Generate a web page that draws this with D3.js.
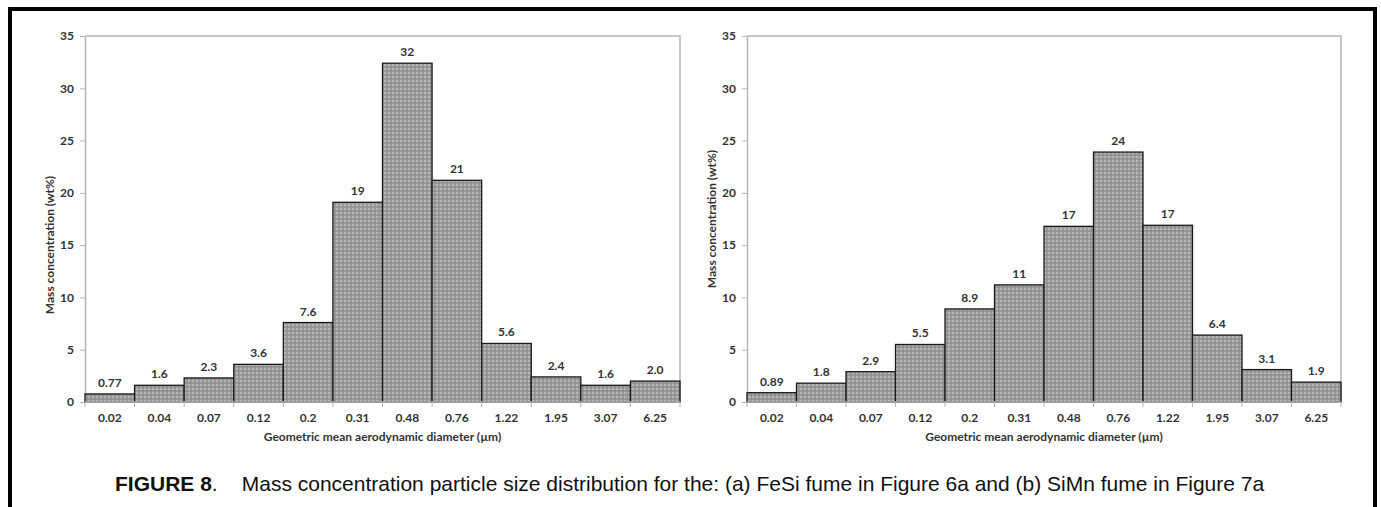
<!DOCTYPE html>
<html lang="en">
  <head>
    <script src="https://d3js.org/d3.v7.min.js"></script>
    <meta charset="utf-8">
    <style>
      body { margin: 0; background: #fff; }
      .tick text, .lbl, .axtitle { font-family: Lato, "Open Sans", sans-serif; font-weight: bold; fill: #333; }
      .caption { font-family: "Liberation Sans", Arial, sans-serif; fill: #111; }
    </style>
    <title></title>
  </head>
  <body>
    <svg id="fig" width="1381" height="507"></svg>
  </body>
</html>

<script>
    // size classes (geometric mean aerodynamic diameter, µm)
    const sizes = ["0.02", "0.04", "0.07", "0.12", "0.2", "0.31", "0.48", "0.76", "1.22", "1.95", "3.07", "6.25"];

    // (a) FeSi fume
    const fesiValues = [0.77, 1.6, 2.3, 3.6, 7.6, 19.1, 32.4, 21.2, 5.6, 2.4, 1.6, 2.0];
    const fesiLabels = ["0.77", "1.6", "2.3", "3.6", "7.6", "19", "32", "21", "5.6", "2.4", "1.6", "2.0"];

    // (b) SiMn fume
    const simnValues = [0.89, 1.8, 2.9, 5.5, 8.9, 11.2, 16.8, 23.9, 16.9, 6.4, 3.1, 1.9];
    const simnLabels = ["0.89", "1.8", "2.9", "5.5", "8.9", "11", "17", "24", "17", "6.4", "3.1", "1.9"];

    const yTicks = [0, 5, 10, 15, 20, 25, 30, 35];

    const svg = d3.select("#fig");

    // dotted grey fill like the original
    const pat = svg.append("defs").append("pattern")
        .attr("id", "dots")
        .attr("width", 4).attr("height", 4)
        .attr("patternUnits", "userSpaceOnUse");
    pat.append("rect").attr("width", 4).attr("height", 4).attr("fill", "#9a9a9a");
    pat.append("circle").attr("cx", 1).attr("cy", 1).attr("r", 0.9).attr("fill", "#c4c4c4");
    pat.append("circle").attr("cx", 3).attr("cy", 3).attr("r", 0.7).attr("fill", "#7e7e7e");

    // outer frame
    svg.append("path")
        .attr("d", "M10,510 V9 H1375 V510")
        .attr("fill", "none")
        .attr("stroke", "#000")
        .attr("stroke-width", 4);

    function panel(left, right, values, labels, titleY) {
        const top = 36, bottom = 402;
        const g = svg.append("g");

        const x = d3.scaleBand().domain(sizes).range([left, right]).padding(0);
        const y = d3.scaleLinear().domain([0, 35]).range([bottom, top]);

        // plot frame (top + right)
        g.append("path")
            .attr("d", `M${left},${top} H${right} V${bottom}`)
            .attr("fill", "none")
            .attr("stroke", "#b5b5b5")
            .attr("stroke-width", 1.5);

        // y axis
        const ya = g.append("g")
            .attr("transform", `translate(${left},0)`)
            .call(d3.axisLeft(y).tickValues(yTicks).tickSize(5).tickSizeOuter(0).tickPadding(6));
        ya.select(".domain").attr("stroke", "#b5b5b5").attr("stroke-width", 1.5);
        ya.selectAll(".tick line").attr("stroke", "#b5b5b5");
        ya.selectAll(".tick text").attr("font-size", 12);

        // bars
        g.selectAll("rect.bar")
            .data(values)
            .enter().append("rect")
            .attr("class", "bar")
            .attr("x", (d, i) => x(sizes[i]))
            .attr("y", d => y(d))
            .attr("width", x.bandwidth())
            .attr("height", d => bottom - y(d))
            .attr("fill", "url(#dots)")
            .attr("stroke", "#1a1a1a")
            .attr("stroke-width", 1.3);

        // value labels
        g.selectAll("text.lbl")
            .data(values)
            .enter().append("text")
            .attr("class", "lbl")
            .attr("x", (d, i) => x(sizes[i]) + x.bandwidth() / 2)
            .attr("y", d => y(d) - 7)
            .attr("text-anchor", "middle")
            .attr("font-size", 12)
            .text((d, i) => labels[i]);

        // x axis line + ticks at class boundaries
        g.append("line")
            .attr("x1", left).attr("x2", right)
            .attr("y1", bottom).attr("y2", bottom)
            .attr("stroke", "#b5b5b5").attr("stroke-width", 1.5);
        const edges = sizes.map(s => x(s)).concat([right]);
        g.selectAll("line.xt")
            .data(edges)
            .enter().append("line")
            .attr("x1", d => d).attr("x2", d => d)
            .attr("y1", bottom).attr("y2", bottom + 5)
            .attr("stroke", "#b5b5b5");

        g.selectAll("text.xl")
            .data(sizes)
            .enter().append("text")
            .attr("class", "lbl")
            .attr("x", d => x(d) + x.bandwidth() / 2)
            .attr("y", 422)
            .attr("text-anchor", "middle")
            .attr("font-size", 12)
            .text(d => d);

        // axis titles
        g.append("text")
            .attr("class", "axtitle")
            .attr("x", (left + right) / 2)
            .attr("y", 441)
            .attr("text-anchor", "middle")
            .attr("font-size", 12)
            .text("Geometric mean aerodynamic diameter (µm)");

        g.append("text")
            .attr("class", "axtitle")
            .attr("transform", `translate(${left - 35},${titleY}) rotate(-90)`)
            .attr("text-anchor", "middle")
            .attr("dy", "0.35em")
            .attr("font-size", 12)
            .text("Mass concentration (wt%)");
    }

    panel(85, 680, fesiValues, fesiLabels, 245);
    panel(747, 1341, simnValues, simnLabels, 219);

    // caption
    const cap = svg.append("text")
        .attr("class", "caption")
        .attr("x", 115)
        .attr("y", 491)
        .attr("font-size", 21);
    cap.append("tspan").attr("font-weight", "bold").text("FIGURE 8");
    cap.append("tspan").text(".");
    cap.append("tspan").attr("dx", 24)
        .text("Mass concentration particle size distribution for the: (a) FeSi fume in Figure 6a and (b) SiMn fume in Figure 7a");
</script>
